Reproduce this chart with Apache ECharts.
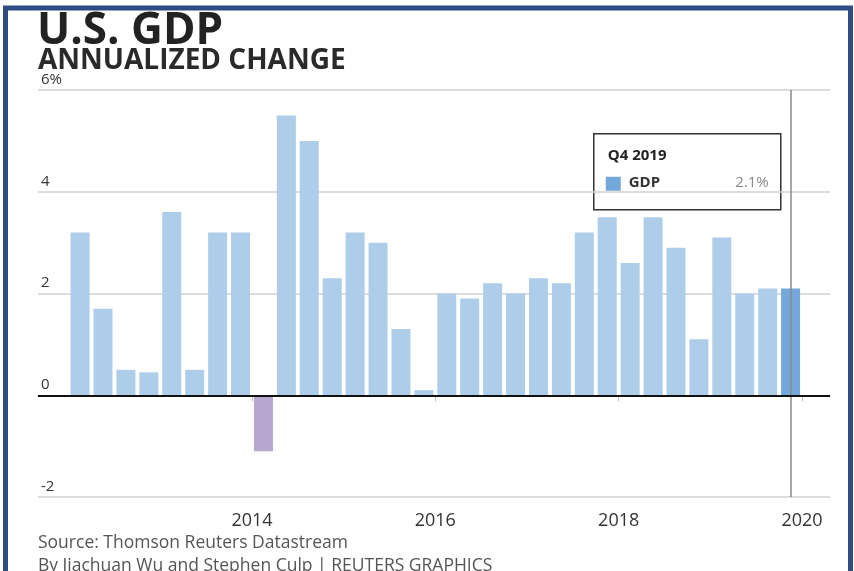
<!DOCTYPE html>
<html>
<head>
<meta charset="utf-8">
<script src="https://cdn.jsdelivr.net/npm/echarts@6/dist/echarts.min.js"></script>
<style>
  html, body { margin: 0; padding: 0; background: #fff; }
  #chart { width: 854px; height: 571px; }
</style>
</head>
<body>
<div id="chart"></div>
<script>
// quarters shown, oldest first
var periods = [
    '2012Q1', '2012Q2', '2012Q3', '2012Q4', '2013Q1', '2013Q2', '2013Q3', '2013Q4',
    '2014Q1', '2014Q2', '2014Q3', '2014Q4', '2015Q1', '2015Q2', '2015Q3', '2015Q4',
    '2016Q1', '2016Q2', '2016Q3', '2016Q4', '2017Q1', '2017Q2', '2017Q3', '2017Q4',
    '2018Q1', '2018Q2', '2018Q3', '2018Q4', '2019Q1', '2019Q2', '2019Q3', '2019Q4'
];
// annualized GDP change, %
var gdp = [
    3.2, 1.7, 0.5, 0.45, 3.6, 0.5, 3.2, 3.2,
    -1.1, 5.5, 5.0, 2.3, 3.2, 3.0, 1.3, 0.1,
    2.0, 1.9, 2.2, 2.0, 2.3, 2.2, 3.2, 3.5,
    2.6, 3.5, 2.9, 1.1, 3.1, 2.0, 2.1, 2.1
];
var yearTicks = [2014, 2016, 2018, 2020];
var yTicks = [-2, 0, 2, 4, 6];

var font = '"Open Sans", sans-serif';

// middle of the quarter, in years
function periodPos(p) {
    return +p.slice(0, 4) + (+p.slice(5) - 0.5) / 4;
}

var last = periods.length - 1;
var lastPos = periodPos(periods[last]);
var barData = periods.map(function (p, i) {
    var color = '#aecde9';
    if (gdp[i] < 0) color = '#b7a6d0';
    if (i === last) color = '#74a8da';
    return { value: [periodPos(p), gdp[i]], itemStyle: { color: color } };
});

var myChart = echarts.init(document.getElementById('chart'));

var option = {
    animation: false,
    grid: { left: 38, right: 24, top: 90, bottom: 74 },
    title: [
        { text: 'U.S. GDP', left: 32, top: 4,
          textStyle: { fontFamily: font, fontSize: 44, fontWeight: 'bold', color: '#222' } },
        { text: 'ANNUALIZED CHANGE', left: 33, top: 42,
          textStyle: { fontFamily: font, fontSize: 28, fontWeight: 'bold', color: '#2a2a2a' } },
        { text: 'Source: Thomson Reuters Datastream', left: 33, top: 529,
          textStyle: { fontFamily: font, fontSize: 17.5, fontWeight: 'normal', color: '#555' } },
        { text: 'By Jiachuan Wu and Stephen Culp | REUTERS GRAPHICS', left: 33, top: 552,
          textStyle: { fontFamily: font, fontSize: 17.5, fontWeight: 'normal', color: '#555' } }
    ],
    xAxis: {
        type: 'value',
        min: 2011.666,
        max: 2020.305,
        splitLine: { show: false },
        axisLine: { lineStyle: { color: '#c8c8c8', width: 1.5 } },
        axisTick: { show: true, customValues: yearTicks, length: 6, lineStyle: { color: '#bbb' } },
        axisLabel: {
            customValues: yearTicks,
            margin: 15,
            fontFamily: font, fontSize: 18, color: '#333',
            formatter: function (v) { return String(v); }
        }
    },
    yAxis: {
        type: 'value',
        min: -2,
        max: 6,
        interval: 2,
        axisLine: { show: false },
        axisTick: { show: false },
        splitLine: { lineStyle: { color: '#d0d0d0', width: 1.5 } },
        axisLabel: {
            inside: true,
            margin: 3,
            verticalAlign: 'bottom',
            padding: [0, 0, 3, 0],
            fontFamily: font, fontSize: 15, color: '#333',
            formatter: function (v) { return v === yTicks[yTicks.length - 1] ? v + '%' : String(v); }
        }
    },
    series: [
        {
            type: 'line',
            data: [],
            z: 1,
            markLine: {
                silent: true,
                symbol: 'none',
                label: { show: false },
                lineStyle: { color: '#8a8a8a', width: 1.5, type: 'solid' },
                data: [{ xAxis: lastPos }]
            }
        },
        {
            name: 'GDP',
            type: 'bar',
            data: barData,
            barWidth: 19,
            z: 2,
            markLine: {
                silent: true,
                symbol: 'none',
                label: { show: false },
                lineStyle: { color: '#111', width: 2, type: 'solid' },
                data: [{ yAxis: 0 }]
            }
        }
    ],
    graphic: [
        {
            type: 'rect',
            shape: { x: 5.5, y: 8, width: 845, height: 600 },
            style: { fill: null, stroke: '#2f4b84', lineWidth: 5 },
            silent: true
        },
        {
            type: 'group',
            left: 593,
            top: 133,
            z: 100,
            children: [
                { type: 'rect', shape: { x: 0, y: 0, width: 187, height: 76 },
                  style: { fill: '#fff', stroke: '#333', lineWidth: 1.5 } },
                { type: 'text', x: 14, y: 14,
                  style: { text: 'Q4 ' + periods[last].slice(0, 4), fontFamily: font, fontSize: 15,
                           fontWeight: 'bold', fill: '#222' } },
                { type: 'rect', shape: { x: 12, y: 43, width: 15, height: 14 },
                  style: { fill: '#74a8da' } },
                { type: 'text', x: 35, y: 41,
                  style: { text: 'GDP', fontFamily: font, fontSize: 15, fontWeight: 'bold', fill: '#333' } },
                { type: 'text', x: 175, y: 41,
                  style: { text: gdp[last].toFixed(1) + '%', fontFamily: font, fontSize: 15,
                           fill: '#888', align: 'right' } }
            ]
        }
    ]
};

myChart.setOption(option);
</script>
</body>
</html>
